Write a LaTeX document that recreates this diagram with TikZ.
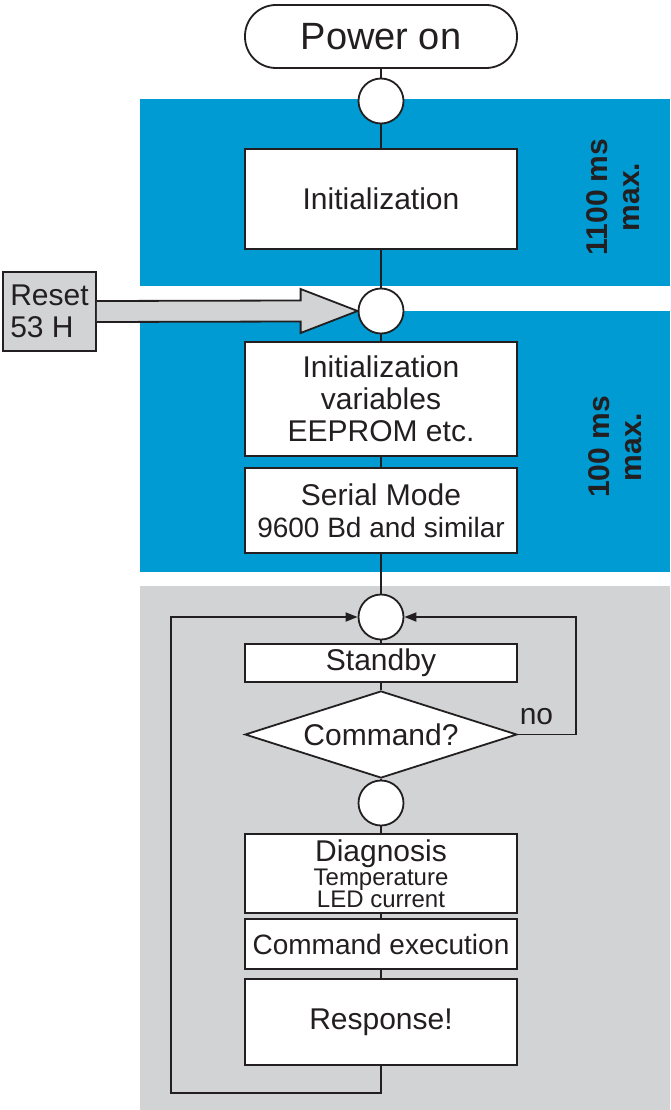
\documentclass[tikz,border=0pt]{standalone}
\usepackage{fontspec}
\setmainfont{Liberation Sans}
\usepackage{tikz}
\usetikzlibrary{arrows.meta,calc,shapes.geometric}
\definecolor{bandblue}{RGB}{0,155,210}
\definecolor{loopgray}{RGB}{209,211,212}
\definecolor{ink}{RGB}{35,31,32}

\begin{document}
\begin{tikzpicture}[x=1pt, y=-1pt, line width=1.8pt, color=ink,
	every node/.style={font=\fontsize{30}{32}\selectfont},
	box/.style={draw, fill=white, minimum width=272pt, align=center, inner sep=2pt},
	dot/.style={draw, fill=white, circle, minimum size=45pt, inner sep=0pt},
	tip/.style={-{Triangle[length=12pt,width=9pt]}}]
	\useasboundingbox (0,0) rectangle (670,1110);
	% timing bands and loop area
	\fill[bandblue] (140,99) rectangle (670,286);
	\fill[bandblue] (140,311) rectangle (670,572);
	\fill[loopgray] (140,586) rectangle (670,1110);

	\node[box, rounded corners=31pt, minimum height=63pt, font=\fontsize{38}{40}\selectfont] (pwr) at (381,36.5) {Power on};
	\node[dot] (c1) at (381,101) {};
	\node[box, minimum height=100pt] (init) at (381,199) {Initialization};
	\node[dot] (c2) at (381,311) {};
	\node[box, minimum height=114pt] (vars) at (381,399) {Initialization\\variables\\EEPROM etc.};
	\node[box, minimum height=85pt] (serial) at (381,510.5) {Serial Mode\\{\fontsize{28}{31}\selectfont 9600 Bd and similar}};
	\node[dot] (c3) at (381,617) {};
	\node[box, minimum height=38pt] (standby) at (381,663) {Standby};
	\node[box, shape=diamond, aspect=3.126, inner sep=0pt, minimum width=272pt, minimum height=87pt] (cmd) at (381,734.5) {Command?};
	\node[dot] (c4) at (381,803) {};
	\node[box, minimum height=79pt, font=\fontsize{24}{22}\selectfont] (diag) at (381,873.5) {{\fontsize{30}{32}\selectfont Diagnosis}\\Temperature\\LED current};
	\node[box, minimum height=50pt, font=\fontsize{28}{30}\selectfont] (exec) at (381,944) {Command execution};
	\node[box, minimum height=86pt] (resp) at (381,1022) {Response!};

	\node[draw, fill=loopgray, minimum width=93pt, minimum height=79pt, align=left, inner sep=0pt] (reset) at (49.5,311.5) {Reset\\53 H};
	% reset arrow
	\draw[fill=loopgray] ([yshift=10.5pt]reset.east) -- ([xshift=-57pt,yshift=10.5pt]c2.west)
		-- ([xshift=-57pt,yshift=22pt]c2.west) -- (c2.west) -- ([xshift=-57pt,yshift=-22pt]c2.west)
		-- ([xshift=-57pt,yshift=-10.5pt]c2.west) -- ([yshift=-10.5pt]reset.east);

	\node[rotate=90, align=center, font=\bfseries\fontsize{30}{32}\selectfont] (t1) at (613,197) {1100 ms\\max.};
	\node[rotate=90, align=center, font=\bfseries\fontsize{30}{32}\selectfont] (t2) at (615,447) {100 ms\\max.};

	\path
	(pwr) edge (c1)
	(c1) edge (init)
	(init) edge (c2)
	(c2) edge (vars)
	(vars) edge (serial)
	(serial) edge (c3)
	(c3) edge (standby)
	(standby) edge (cmd)
	(cmd) edge (c4)
	(c4) edge (diag)
	(diag) edge (exec)
	(exec) edge (resp);

	% loops back to standby
	\coordinate (lb) at (171,1093);
	\coordinate (nr) at (576,734.5);
	\draw[tip] (resp) |- (lb) |- (c3);
	\draw[tip] (cmd.east) -- (nr) |- (c3);
	\node[anchor=base west, inner sep=0pt] (no) at ([xshift=1pt,yshift=10.5pt]cmd.east) {no};
\end{tikzpicture}
\end{document}
